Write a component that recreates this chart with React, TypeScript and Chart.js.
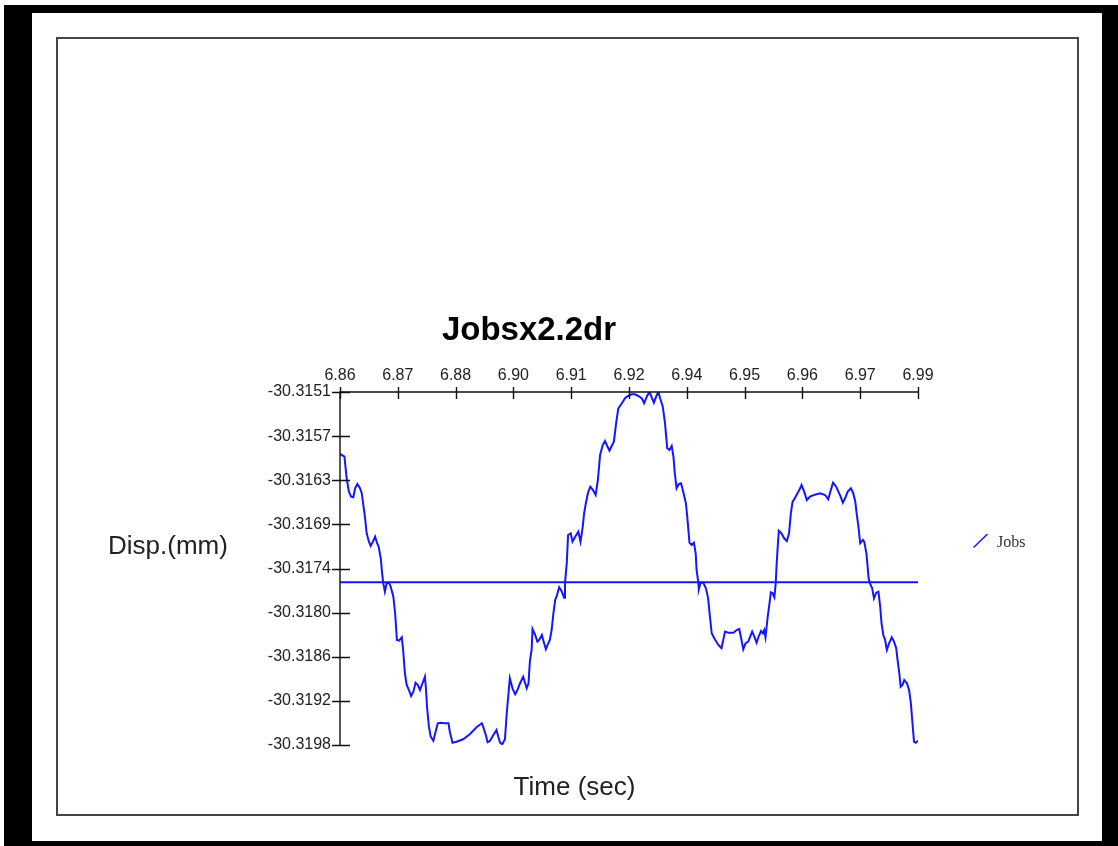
import { useEffect, useRef } from "react";
import { Chart, registerables } from "chart.js";

Chart.register(...registerables);

const CHART_TITLE = "Jobsx2.2dr";
const X_TITLE = "Time (sec)";
const Y_TITLE = "Disp.(mm)";
const SERIES_NAME = "Jobs";

const X_MIN = 6.86;
const X_MAX = 6.99;
const Y_MIN = -30.3198;
const Y_MAX = -30.3151;

const X_TICK_LABELS = ["6.86", "6.87", "6.88", "6.90", "6.91", "6.92", "6.94", "6.95", "6.96", "6.97", "6.99"];
const Y_TICK_LABELS = ["-30.3151", "-30.3157", "-30.3163", "-30.3169", "-30.3174", "-30.3180", "-30.3186", "-30.3192", "-30.3198"];

const TIMES = [
  6.8600, 6.8610, 6.8615, 6.8620, 6.8625, 6.8630, 6.8634, 6.8639, 6.8645, 6.8649,
  6.8652, 6.8656, 6.8660, 6.8665, 6.8669, 6.8674, 6.8679, 6.8683, 6.8687, 6.8692,
  6.8694, 6.8697, 6.8701, 6.8705, 6.8710, 6.8714, 6.8720, 6.8724, 6.8728, 6.8733,
  6.8739, 6.8742, 6.8746, 6.8750, 6.8755, 6.8760, 6.8765, 6.8770, 6.8775, 6.8780,
  6.8784, 6.8787, 6.8791, 6.8793, 6.8796, 6.8800, 6.8804, 6.8810, 6.8815, 6.8820,
  6.8826, 6.8834, 6.8844, 6.8847, 6.8853, 6.8862, 6.8877, 6.8892, 6.8907, 6.8919,
  6.8922, 6.8928, 6.8932, 6.8937, 6.8945, 6.8952, 6.8956, 6.8960, 6.8965, 6.8971,
  6.8975, 6.8979, 6.8982, 6.8988, 6.8994, 6.8999, 6.9005, 6.9012, 6.9020, 6.9024,
  6.9027, 6.9031, 6.9033, 6.9039, 6.9044, 6.9048, 6.9054, 6.9057, 6.9063, 6.9067,
  6.9072, 6.9076, 6.9080, 6.9084, 6.9087, 6.9093, 6.9099, 6.9104, 6.9106, 6.9110,
  6.9113, 6.9119, 6.9123, 6.9129, 6.9136, 6.9141, 6.9146, 6.9149, 6.9153, 6.9158,
  6.9163, 6.9169, 6.9175, 6.9180, 6.9185, 6.9191, 6.9196, 6.9200, 6.9206, 6.9211,
  6.9216, 6.9221, 6.9226, 6.9234, 6.9241, 6.9248, 6.9256, 6.9263, 6.9271, 6.9279,
  6.9284, 6.9290, 6.9296, 6.9301, 6.9306, 6.9311, 6.9316, 6.9320, 6.9326, 6.9331,
  6.9336, 6.9341, 6.9346, 6.9350, 6.9353, 6.9357, 6.9362, 6.9367, 6.9372, 6.9378,
  6.9381, 6.9386, 6.9391, 6.9396, 6.9400, 6.9402, 6.9406, 6.9407, 6.9411, 6.9417,
  6.9423, 6.9428, 6.9432, 6.9436, 6.9443, 6.9451, 6.9458, 6.9462, 6.9466, 6.9473,
  6.9485, 6.9492, 6.9498, 6.9503, 6.9507, 6.9512, 6.9518, 6.9522, 6.9527, 6.9532,
  6.9537, 6.9542, 6.9547, 6.9551, 6.9554, 6.9557, 6.9562, 6.9566, 6.9569, 6.9573,
  6.9577, 6.9580, 6.9582, 6.9584, 6.9587, 6.9593, 6.9599, 6.9605, 6.9610, 6.9614,
  6.9618, 6.9623, 6.9629, 6.9635, 6.9638, 6.9644, 6.9650, 6.9657, 6.9668, 6.9680,
  6.9691, 6.9698, 6.9704, 6.9709, 6.9716, 6.9721, 6.9726, 6.9731, 6.9736, 6.9742,
  6.9749, 6.9754, 6.9759, 6.9762, 6.9766, 6.9770, 6.9776, 6.9779, 6.9784, 6.9786,
  6.9789, 6.9792, 6.9797, 6.9801, 6.9806, 6.9811, 6.9815, 6.9818, 6.9822, 6.9826,
  6.9830, 6.9835, 6.9841, 6.9846, 6.9851, 6.9854, 6.9858, 6.9861, 6.9865, 6.9869,
  6.9875, 6.9880, 6.9884, 6.9887, 6.9891, 6.9895, 6.9900,
];

const DISP = [
  -30.315925, -30.315961, -30.316249, -30.316427, -30.316494, -30.316502, -30.316382, -30.316325, -30.316382, -30.316449,
  -30.316582, -30.316760, -30.316981, -30.317093, -30.317150, -30.317093, -30.317027, -30.317106, -30.317160, -30.317327,
  -30.317470, -30.317634, -30.317759, -30.317647, -30.317639, -30.317692, -30.317825, -30.318046, -30.318402, -30.318411,
  -30.318366, -30.318535, -30.318845, -30.319001, -30.319068, -30.319147, -30.319090, -30.318970, -30.319001, -30.319068,
  -30.319001, -30.318957, -30.318890, -30.319024, -30.319311, -30.319556, -30.319689, -30.319743, -30.319623, -30.319511,
  -30.319503, -30.319511, -30.319511, -30.319623, -30.319769, -30.319756, -30.319724, -30.319657, -30.319564, -30.319511,
  -30.319556, -30.319667, -30.319764, -30.319747, -30.319667, -30.319600, -30.319689, -30.319769, -30.319791, -30.319724,
  -30.319378, -30.319111, -30.318912, -30.319045, -30.319125, -30.319068, -30.318978, -30.318890, -30.319045, -30.318978,
  -30.318691, -30.318535, -30.318255, -30.318335, -30.318424, -30.318402, -30.318335, -30.318402, -30.318526, -30.318468,
  -30.318402, -30.318269, -30.318046, -30.317869, -30.317825, -30.317700, -30.317759, -30.317839, -30.317647, -30.317381,
  -30.317004, -30.316981, -30.317093, -30.317027, -30.316960, -30.317093, -30.316893, -30.316715, -30.316582, -30.316438,
  -30.316361, -30.316405, -30.316471, -30.316272, -30.315939, -30.315806, -30.315752, -30.315806, -30.315882, -30.315819,
  -30.315762, -30.315517, -30.315317, -30.315250, -30.315184, -30.315153, -30.315131, -30.315131, -30.315153, -30.315184,
  -30.315250, -30.315163, -30.315096, -30.315171, -30.315242, -30.315163, -30.315096, -30.315184, -30.315296, -30.315517,
  -30.315850, -30.315872, -30.315819, -30.315961, -30.316182, -30.316382, -30.316325, -30.316316, -30.316427, -30.316582,
  -30.316760, -30.317106, -30.317137, -30.317106, -30.317248, -30.317470, -30.317639, -30.317727, -30.317639, -30.317639,
  -30.317714, -30.317847, -30.318092, -30.318313, -30.318393, -30.318468, -30.318512, -30.318402, -30.318291, -30.318305,
  -30.318305, -30.318269, -30.318255, -30.318402, -30.318526, -30.318446, -30.318424, -30.318366, -30.318291, -30.318358,
  -30.318438, -30.318349, -30.318282, -30.318313, -30.318269, -30.318366, -30.318092, -30.317913, -30.317767, -30.317780,
  -30.317833, -30.317647, -30.317403, -30.317204, -30.316947, -30.316981, -30.317048, -30.317084, -30.316981, -30.316715,
  -30.316561, -30.316515, -30.316449, -30.316382, -30.316338, -30.316427, -30.316538, -30.316494, -30.316467, -30.316449,
  -30.316471, -30.316529, -30.316405, -30.316308, -30.316361, -30.316427, -30.316494, -30.316574, -30.316515, -30.316427,
  -30.316382, -30.316441, -30.316561, -30.316715, -30.316893, -30.317114, -30.317070, -30.317093, -30.317248, -30.317381,
  -30.317580, -30.317647, -30.317714, -30.317847, -30.317772, -30.317759, -30.317959, -30.318180, -30.318335, -30.318402,
  -30.318535, -30.318446, -30.318366, -30.318424, -30.318512, -30.318668, -30.318845, -30.319024, -30.319001, -30.318934,
  -30.318978, -30.319068, -30.319245, -30.319467, -30.319756, -30.319769, -30.319743,
];

const MEAN_DISP = -30.317634;

const SANS = "'Liberation Sans', Arial, sans-serif";
const SERIF = "'Liberation Serif', 'Times New Roman', serif";
const LINE_COLOR = "#1515ff";
const TEXT_COLOR = "#222";

const xTickValue = (i: number) => X_MIN + (i * (X_MAX - X_MIN)) / (X_TICK_LABELS.length - 1);
const yTickValue = (i: number) => Y_MAX - (i * (Y_MAX - Y_MIN)) / (Y_TICK_LABELS.length - 1);

const decorPlugin = {
  id: "decor",
  afterDraw(chart: any) {
    const { ctx, chartArea } = chart;
    const xs = chart.scales.x;
    const ys = chart.scales.y;
    ctx.save();
    // axes
    ctx.strokeStyle = "#111";
    ctx.lineWidth = 1.4;
    ctx.beginPath();
    ctx.moveTo(chartArea.left, chartArea.bottom);
    ctx.lineTo(chartArea.left, chartArea.top);
    ctx.lineTo(chartArea.right, chartArea.top);
    ctx.stroke();
    // y ticks
    ctx.beginPath();
    Y_TICK_LABELS.forEach((_, i) => {
      const y = Math.round(ys.getPixelForValue(yTickValue(i))) + 0.5;
      ctx.moveTo(chartArea.left - 8, y);
      ctx.lineTo(chartArea.left + 10, y);
    });
    // x ticks
    X_TICK_LABELS.forEach((_, i) => {
      const x = Math.round(xs.getPixelForValue(xTickValue(i))) + 0.5;
      ctx.moveTo(x, chartArea.top - 5);
      ctx.lineTo(x, chartArea.top + 7);
    });
    ctx.stroke();

    // titles
    ctx.fillStyle = "#000";
    ctx.textBaseline = "alphabetic";
    ctx.textAlign = "center";
    ctx.font = `bold 33px ${SANS}`;
    ctx.fillText(CHART_TITLE, 529, 340);
    ctx.fillStyle = TEXT_COLOR;
    ctx.font = `26px ${SANS}`;
    ctx.fillText(X_TITLE, 574.5, 795);
    ctx.fillText(Y_TITLE, 168, 554);

    // legend
    ctx.strokeStyle = LINE_COLOR;
    ctx.lineWidth = 1.5;
    ctx.beginPath();
    ctx.moveTo(973.5, 547.5);
    ctx.lineTo(987.5, 534);
    ctx.stroke();
    ctx.fillStyle = "#333";
    ctx.textAlign = "left";
    ctx.font = `16px ${SERIF}`;
    ctx.fillText(SERIES_NAME, 997, 547);
    ctx.restore();
  },
};

export default function App() {
  const canvasRef = useRef<HTMLCanvasElement | null>(null);

  useEffect(() => {
    const canvas = canvasRef.current;
    if (!canvas) return;
    const points = TIMES.map((t, i) => ({ x: t, y: DISP[i] }));
    const meanPoints = [
      { x: X_MIN, y: MEAN_DISP },
      { x: X_MAX, y: MEAN_DISP },
    ];
    const chart = new Chart(canvas, {
      type: "line",
      data: {
        datasets: [
          {
            label: SERIES_NAME,
            data: points,
            borderColor: LINE_COLOR,
            borderWidth: 2,
            pointRadius: 0,
            tension: 0,
            fill: false,
          },
          {
            label: "mean",
            data: meanPoints,
            borderColor: LINE_COLOR,
            borderWidth: 2,
            pointRadius: 0,
            tension: 0,
            fill: false,
          },
        ],
      },
      options: {
        responsive: false,
        animation: false,
        layout: { padding: { left: 0, top: 0, right: 200, bottom: 101 } },
        plugins: {
          legend: { display: false },
          title: { display: false },
          tooltip: { enabled: false },
        },
        scales: {
          x: {
            type: "linear",
            position: "top",
            min: X_MIN,
            max: X_MAX,
            grid: { display: false, drawTicks: false },
            border: { display: false },
            afterBuildTicks: (s: any) => {
              s.ticks = X_TICK_LABELS.map((_, i) => ({ value: xTickValue(i) }));
            },
            afterFit: (s: any) => {
              s.height = 392;
            },
            ticks: {
              autoSkip: false,
              maxRotation: 0,
              minRotation: 0,
              padding: 7,
              color: TEXT_COLOR,
              font: { family: SANS, size: 16 },
              callback: (_v: any, i: number) => X_TICK_LABELS[i],
            },
          },
          y: {
            type: "linear",
            position: "left",
            min: Y_MIN,
            max: Y_MAX,
            grid: { display: false, drawTicks: false },
            border: { display: false },
            afterBuildTicks: (s: any) => {
              s.ticks = Y_TICK_LABELS.map((_, i) => ({ value: yTickValue(i) }));
            },
            afterFit: (s: any) => {
              s.width = 340;
            },
            ticks: {
              autoSkip: false,
              padding: 9,
              color: TEXT_COLOR,
              font: { family: SANS, size: 16 },
              callback: (_v: any, i: number) => Y_TICK_LABELS[i],
            },
          },
        },
      },
      plugins: [decorPlugin],
    } as any);
    return () => chart.destroy();
  }, []);

  return (
    <div style={{ position: "fixed", left: 0, top: 0, width: 1118, height: 846, background: "#fff", overflow: "hidden" }}>
      <div style={{ position: "absolute", left: 4, top: 5, width: 1114, height: 841, background: "#000" }}>
        <div style={{ position: "absolute", left: 28, top: 8, width: 1070, height: 828, background: "#fff" }} />
      </div>
      <div
        style={{
          position: "absolute",
          left: 56,
          top: 37,
          width: 1023,
          height: 779,
          boxSizing: "border-box",
          border: "2px solid #444",
        }}
      />
      <canvas ref={canvasRef} width={1118} height={846} style={{ position: "absolute", left: 0, top: 0 }} />
    </div>
  );
}
